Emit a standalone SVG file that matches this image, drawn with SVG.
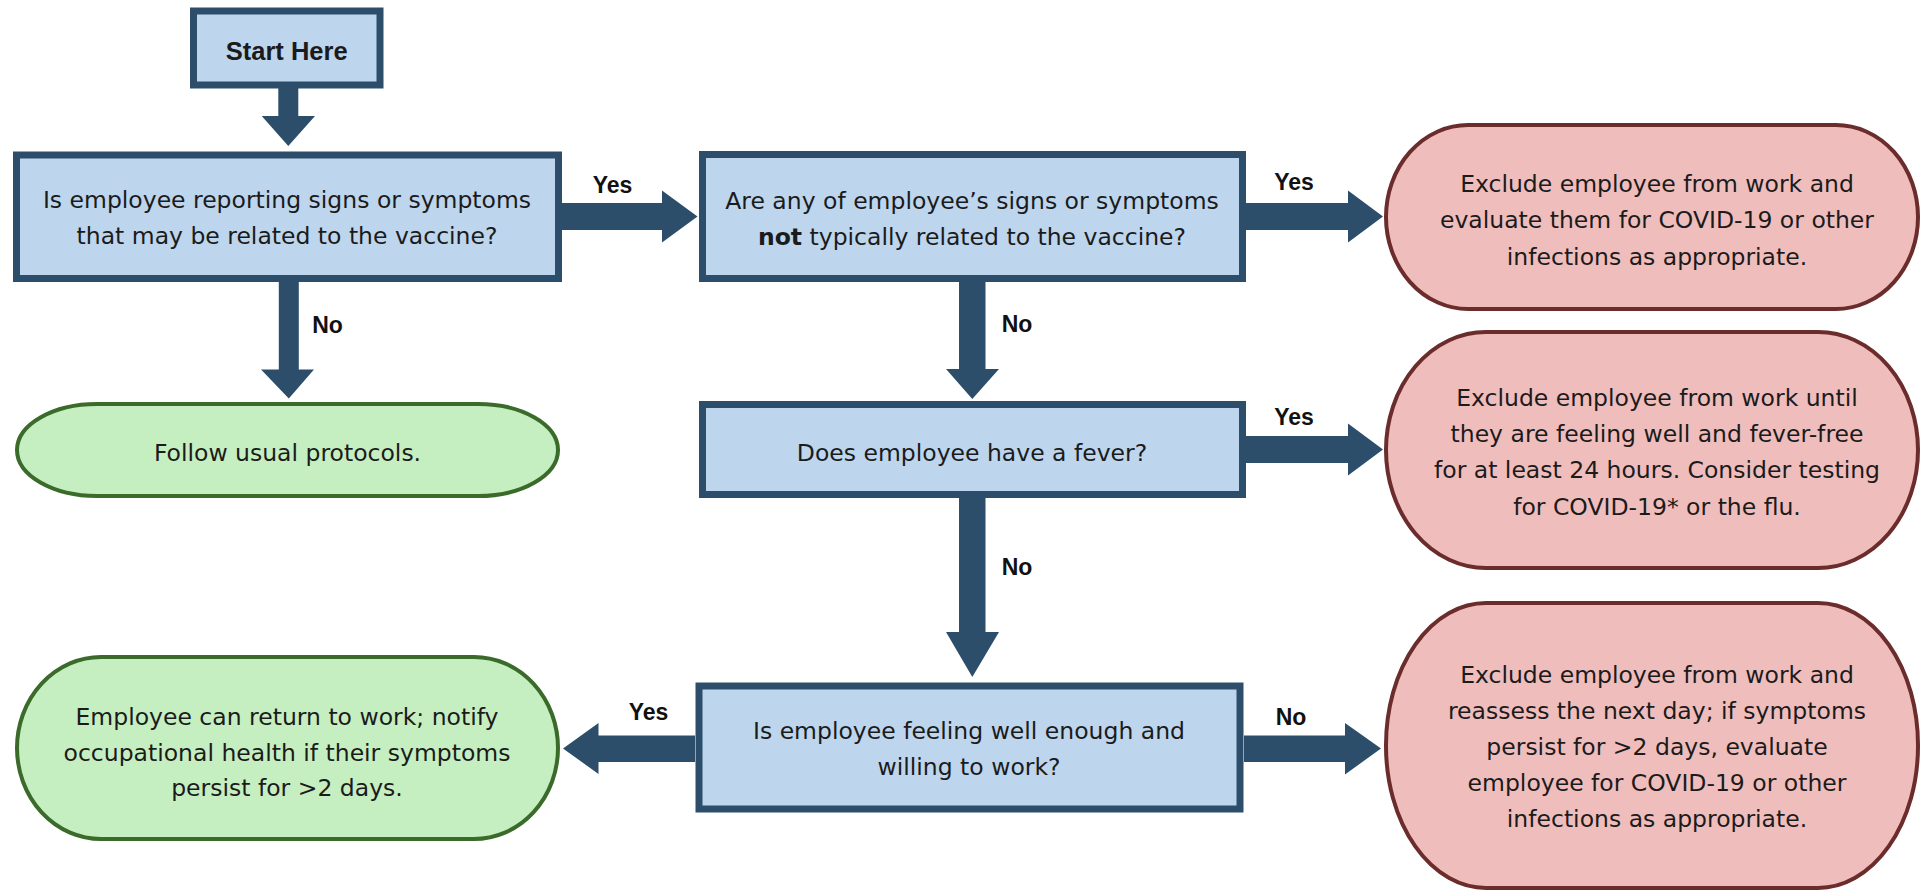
<svg xmlns="http://www.w3.org/2000/svg" width="1923" height="891" viewBox="0 0 1923 891">
  <style>
    .q { fill: #BDD6EE; stroke: #2D4E6B; stroke-width: 7; }
    .ok { fill: #C6EFC1; stroke: #3B6B2A; stroke-width: 4; }
    .stop { fill: #F0BDBD; stroke: #6B2C2C; stroke-width: 4; }
    .arrow { fill: #2D4E6B; }
    .body { font-family: "DejaVu Sans", "Liberation Sans", sans-serif; font-size: 23.5px; fill: #1b1b1b; text-anchor: middle; }
    .lbl { font-family: "Liberation Sans", Arial, sans-serif; font-weight: bold; font-size: 23px; fill: #111; text-anchor: middle; }
    .start { font-family: "Liberation Sans", Arial, sans-serif; font-weight: bold; font-size: 25.5px; fill: #1b1b1b; text-anchor: middle; }
  </style>
  <rect width="1923" height="891" fill="#FFFFFF"/>

  <!-- block arrows between steps -->
  <g id="connectors">
    <!-- start -> question 1 -->
    <polygon class="arrow" points="278.3,88 298.3,88 298.3,116 315,116 288.3,146 261.7,116 278.3,116"/>
    <!-- question 1 -> question 2 (Yes) -->
    <polygon class="arrow" points="562,203 662,203 662,190.5 697.5,216.5 662,242.5 662,230 562,230"/>
    <!-- question 1 -> usual protocols (No) -->
    <polygon class="arrow" points="278.8,282 298.8,282 298.8,369.5 314,369.5 288.8,398.5 261,369.5 278.8,369.5"/>
    <!-- question 2 -> exclude and evaluate (Yes) -->
    <polygon class="arrow" points="1246,203 1348,203 1348,190.5 1383,216.5 1348,242.5 1348,230 1246,230"/>
    <!-- question 2 -> fever question (No) -->
    <polygon class="arrow" points="959,282 985.5,282 985.5,369 999,369 972.3,399 946,369 959,369"/>
    <!-- fever question -> exclude until fever-free (Yes) -->
    <polygon class="arrow" points="1246,436 1348,436 1348,423.5 1383,449.5 1348,475.5 1348,463 1246,463"/>
    <!-- fever question -> feeling well question (No) -->
    <polygon class="arrow" points="959,498 985.5,498 985.5,632 999,632 972.3,677 946,632 959,632"/>
    <!-- feeling well question -> exclude and reassess (No) -->
    <polygon class="arrow" points="1244,735.5 1345,735.5 1345,723 1381,748.5 1345,774.5 1345,762 1244,762"/>
    <!-- feeling well question -> return to work (Yes) -->
    <polygon class="arrow" points="695,735.5 598.5,735.5 598.5,723 563,748.5 598.5,774 598.5,762 695,762"/>

    <text class="lbl" x="612.5" y="192.5">Yes</text>
    <text class="lbl" x="327.5" y="332.5">No</text>
    <text class="lbl" x="1294" y="190">Yes</text>
    <text class="lbl" x="1017" y="332">No</text>
    <text class="lbl" x="1294" y="425">Yes</text>
    <text class="lbl" x="1017" y="575">No</text>
    <text class="lbl" x="1291" y="725">No</text>
    <text class="lbl" x="648.5" y="720">Yes</text>
  </g>

  <g id="start">
    <rect class="q" x="193.5" y="11" width="186.5" height="74"/>
    <text class="start" x="286.7" y="60">Start Here</text>
  </g>

  <g id="q-symptoms">
    <rect class="q" x="16.5" y="155" width="542" height="123.5"/>
    <text class="body" x="287" y="208.3">Is employee reporting signs or symptoms</text>
    <text class="body" x="287" y="244.3">that may be related to the vaccine?</text>
  </g>

  <g id="q-not-vaccine">
    <rect class="q" x="702.5" y="154.5" width="540" height="124"/>
    <text class="body" x="972" y="209">Are any of employee’s signs or symptoms</text>
    <text class="body" x="972" y="244.5"><tspan font-weight="bold">not</tspan> typically related to the vaccine?</text>
  </g>

  <g id="q-fever">
    <rect class="q" x="702.5" y="404.5" width="540" height="90"/>
    <text class="body" x="972" y="461">Does employee have a fever?</text>
  </g>

  <g id="q-well">
    <rect class="q" x="699" y="686" width="541" height="123"/>
    <text class="body" x="969" y="739">Is employee feeling well enough and</text>
    <text class="body" x="969" y="774.5">willing to work?</text>
  </g>

  <g id="usual-protocols">
    <rect class="ok" x="17" y="404" width="541" height="92" rx="80" ry="46"/>
    <text class="body" x="287.5" y="461">Follow usual protocols.</text>
  </g>

  <g id="return-to-work">
    <rect class="ok" x="17" y="657" width="541" height="182" rx="84" ry="91"/>
    <text class="body" x="287" y="725">Employee can return to work; notify</text>
    <text class="body" x="287" y="760.5">occupational health if their symptoms</text>
    <text class="body" x="287" y="796">persist for &gt;2 days.</text>
  </g>

  <g id="exclude-evaluate">
    <rect class="stop" x="1386" y="125" width="532" height="184" rx="82" ry="92"/>
    <text class="body" x="1657" y="191.7">Exclude employee from work and</text>
    <text class="body" x="1657" y="228.3">evaluate them for COVID-19 or other</text>
    <text class="body" x="1657" y="265">infections as appropriate.</text>
  </g>

  <g id="exclude-fever">
    <rect class="stop" x="1386" y="332" width="532" height="236" rx="100" ry="118"/>
    <text class="body" x="1657" y="406">Exclude employee from work until</text>
    <text class="body" x="1657" y="442">they are feeling well and fever-free</text>
    <text class="body" x="1657" y="478.3">for at least 24 hours. Consider testing</text>
    <text class="body" x="1657" y="515">for COVID-19* or the flu.</text>
  </g>

  <g id="exclude-reassess">
    <rect class="stop" x="1386" y="603" width="532" height="285" rx="100" ry="142"/>
    <text class="body" x="1657" y="682.7">Exclude employee from work and</text>
    <text class="body" x="1657" y="718.5">reassess the next day; if symptoms</text>
    <text class="body" x="1657" y="755">persist for &gt;2 days, evaluate</text>
    <text class="body" x="1657" y="790.7">employee for COVID-19 or other</text>
    <text class="body" x="1657" y="826.7">infections as appropriate.</text>
  </g>
</svg>
